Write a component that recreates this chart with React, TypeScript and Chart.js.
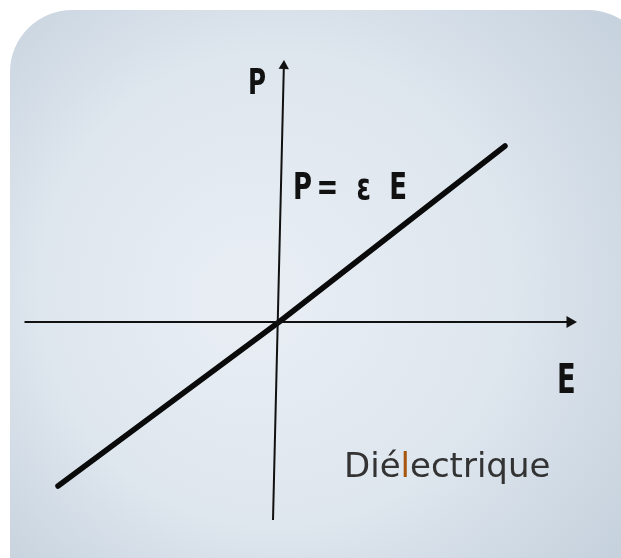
import React, { useEffect, useRef } from "react";
import { Chart, registerables } from "chart.js";

Chart.register(...registerables);

// Data (E along x, P along y)
const lineE = [-4.42, 0, 4.52];
const lineP = [-3.28, 0, 3.52];

const eAxisE = [-5.09, 5.82];
const eAxisP = [0, 0];

const pAxisE = [-0.12, 0.097];
const pAxisP = [-3.96, 5.12];

const textLabels = [
  { text: "P", e: -0.62, p: 4.56, size: 36 },
  { text: "P= ε E", e: 0.28, p: 2.46, size: 38 },
  { text: "E", e: 5.56, p: -1.42, size: 40 },
];
const subtitleParts = ["Dié", "l", "ectrique"];
const subtitlePos = { e: 1.3, p: -3.1 };

const toPts = (xs: number[], ys: number[]) => xs.map((x, i) => ({ x, y: ys[i] }));

const backgroundPlugin = {
  id: "bgPanel",
  beforeDraw(chart: any) {
    const { ctx, width, height } = chart;
    ctx.save();
    ctx.fillStyle = "#ffffff";
    ctx.fillRect(0, 0, width, height);
    const g = ctx.createRadialGradient(250, 300, 40, 300, 280, 430);
    g.addColorStop(0, "#e7edf3");
    g.addColorStop(0.5, "#dee6ee");
    g.addColorStop(1, "#c4d0dc");
    ctx.fillStyle = g;
    ctx.beginPath();
    ctx.roundRect(10, 10, 640, 620, 62);
    ctx.fill();
    ctx.restore();
  },
};

const textPlugin = {
  id: "texts",
  afterDatasetsDraw(chart: any) {
    const { ctx } = chart;
    const xs = chart.scales.x;
    const ys = chart.scales.y;
    ctx.save();
    ctx.textBaseline = "alphabetic";
    ctx.textAlign = "left";
    ctx.fillStyle = "#111111";
    textLabels.forEach((t) => {
      ctx.save();
      ctx.translate(xs.getPixelForValue(t.e), ys.getPixelForValue(t.p));
      ctx.scale(0.76, 1);
      ctx.font = `bold ${t.size}px 'DejaVu Sans Condensed', 'Liberation Sans Narrow', sans-serif`;
      (ctx as any).letterSpacing = "6px";
      ctx.fillText(t.text, 0, 0);
      ctx.restore();
    });
    ctx.font = "34px 'DejaVu Sans', sans-serif";
    let x = xs.getPixelForValue(subtitlePos.e);
    const y = ys.getPixelForValue(subtitlePos.p);
    subtitleParts.forEach((s, i) => {
      ctx.fillStyle = i === 1 ? "#a8560f" : "#333333";
      ctx.fillText(s, x, y);
      x += ctx.measureText(s).width;
    });
    ctx.restore();
  },
};

export default function App() {
  const ref = useRef<HTMLCanvasElement | null>(null);
  useEffect(() => {
    document.body.style.margin = "0";
    if (!ref.current) return;
    const chart = new Chart(ref.current, {
      type: "scatter",
      data: {
        datasets: [
          {
            data: toPts(eAxisE, eAxisP),
            showLine: true,
            borderColor: "#111111",
            backgroundColor: "#111111",
            borderWidth: 2.2,
            pointStyle: "triangle",
            pointRadius: [0, 7],
            pointRotation: [0, 90],
            pointBorderWidth: 0,
          } as any,
          {
            data: toPts(pAxisE, pAxisP),
            showLine: true,
            borderColor: "#111111",
            backgroundColor: "#111111",
            borderWidth: 2,
            pointStyle: "triangle",
            pointRadius: [0, 6],
            pointRotation: [0, 1.4],
            pointBorderWidth: 0,
          } as any,
          {
            data: toPts(lineE, lineP),
            showLine: true,
            borderColor: "#0a0a0a",
            borderWidth: 5.5,
            borderCapStyle: "round",
            borderJoinStyle: "round",
            pointRadius: 0,
          } as any,
        ],
      },
      options: {
        responsive: false,
        animation: false,
        layout: { padding: 0, autoPadding: false },
        plugins: { legend: { display: false }, tooltip: { enabled: false } },
        scales: {
          x: { type: "linear", min: -5.58, max: 6.84, display: false },
          y: { type: "linear", min: -4.72, max: 6.44, display: false },
        },
      },
      plugins: [backgroundPlugin, textPlugin],
    });
    return () => chart.destroy();
  }, []);
  return <canvas ref={ref} width={621} height={558} style={{ display: "block" }} />;
}
